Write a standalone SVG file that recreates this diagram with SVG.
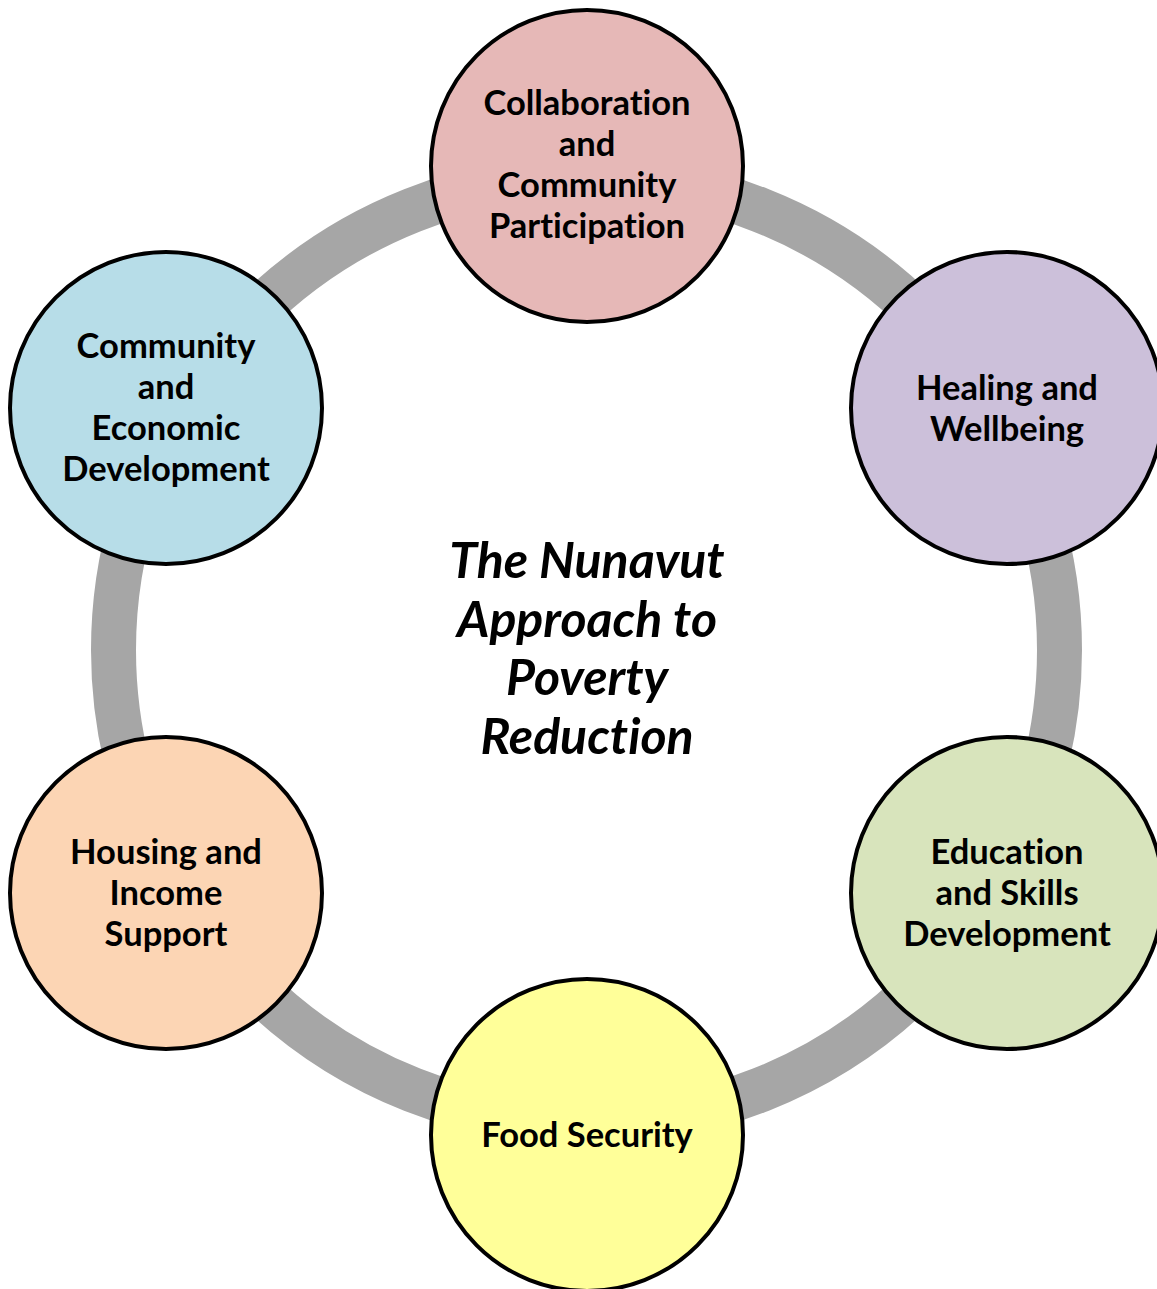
<svg xmlns="http://www.w3.org/2000/svg" width="1157" height="1289" viewBox="0 0 1157 1289">
<style>
.node circle{stroke:#000;stroke-width:4}
text{font-variant-ligatures:none;font-feature-settings:"liga" 0}
.lbl{font-family:"Lato","Liberation Sans",sans-serif;font-weight:700;font-size:34.5px;fill:#000;text-anchor:middle}
.title{font-family:"Lato","Liberation Sans",sans-serif;font-weight:700;font-style:italic;font-size:50px;fill:#000;text-anchor:middle}
</style>
<rect width="1157" height="1289" fill="#fff"/>
<g id="connectors">
<circle cx="586.5" cy="650" r="473" fill="none" stroke="#A6A6A6" stroke-width="45"/>
</g>
<g id="title">
<text class="title" x="587" y="578">The Nunavut</text>
<text class="title" x="587" y="637">Approach to</text>
<text class="title" x="587" y="695">Poverty</text>
<text class="title" x="587" y="754">Reduction</text>
</g>
<g id="n-collab" class="node">
<circle cx="587" cy="166" r="156" fill="#E6B8B7"/>
<text class="lbl" x="587" y="115">Collaboration</text>
<text class="lbl" x="587" y="156">and</text>
<text class="lbl" x="587" y="197">Community</text>
<text class="lbl" x="587" y="238">Participation</text>
</g>
<g id="n-healing" class="node">
<circle cx="1007" cy="408" r="156" fill="#CCC0DA"/>
<text class="lbl" x="1007" y="400">Healing and</text>
<text class="lbl" x="1007" y="441">Wellbeing</text>
</g>
<g id="n-education" class="node">
<circle cx="1007" cy="893" r="156" fill="#D8E4BC"/>
<text class="lbl" x="1007" y="864">Education</text>
<text class="lbl" x="1007" y="905">and Skills</text>
<text class="lbl" x="1007" y="946">Development</text>
</g>
<g id="n-food" class="node">
<circle cx="587" cy="1135" r="156" fill="#FFFF99"/>
<text class="lbl" x="587" y="1147">Food Security</text>
</g>
<g id="n-housing" class="node">
<circle cx="166" cy="893" r="156" fill="#FCD5B4"/>
<text class="lbl" x="166" y="864">Housing and</text>
<text class="lbl" x="166" y="905">Income</text>
<text class="lbl" x="166" y="946">Support</text>
</g>
<g id="n-community" class="node">
<circle cx="166" cy="408" r="156" fill="#B7DDE8"/>
<text class="lbl" x="166" y="358">Community</text>
<text class="lbl" x="166" y="399">and</text>
<text class="lbl" x="166" y="440">Economic</text>
<text class="lbl" x="166" y="481">Development</text>
</g>
</svg>
